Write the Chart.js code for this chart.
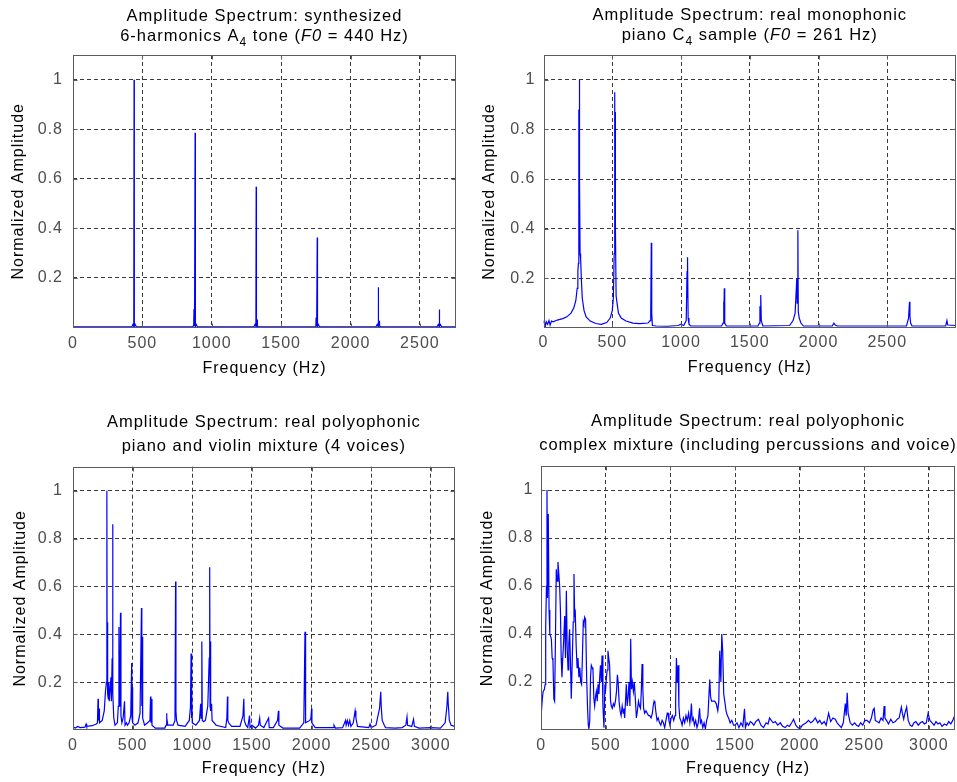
<!DOCTYPE html>
<html>
<head>
<meta charset="utf-8">
<script src="https://cdn.jsdelivr.net/npm/chart.js@4.4.1/dist/chart.umd.min.js"></script>
<style>
  html, body { margin: 0; padding: 0; background: #fff; }
  #fig { position: relative; width: 957px; height: 782px; overflow: hidden; }
  .pane { position: absolute; }
  canvas { display: block; }
</style>
</head>
<body>
<div id="fig">
  <div class="pane" style="left:0;top:0"><canvas id="c1" width="478" height="390"></canvas></div>
  <div class="pane" style="left:478px;top:0"><canvas id="c2" width="479" height="390"></canvas></div>
  <div class="pane" style="left:0;top:390px"><canvas id="c3" width="478" height="392"></canvas></div>
  <div class="pane" style="left:478px;top:390px"><canvas id="c4" width="479" height="392"></canvas></div>
</div>
<script>
// ---- data ----
const yTicks = [0.2, 0.4, 0.6, 0.8, 1];
const xTicksA = [0, 500, 1000, 1500, 2000, 2500];
const xTicksB = [0, 500, 1000, 1500, 2000, 2500, 3000];

// synthesized A4, 6 harmonics
const freq1 = [0,
  424, 432, 438, 440, 442, 448, 456,
  864, 870, 872, 874, 878, 880, 882, 888, 896,
  1304, 1312, 1318, 1320, 1322, 1326, 1328, 1330, 1336,
  1744, 1750, 1752, 1754, 1758, 1760, 1762, 1768, 1776,
  2184, 2192, 2198, 2200, 2202, 2206, 2208, 2210, 2216,
  2624, 2632, 2638, 2640, 2642, 2648, 2656,
  2760];
const amp1 = [0.003,
  0.003, 0.012, 0.004, 1.0, 0.004, 0.012, 0.003,
  0.003, 0.01, 0.075, 0.012, 0.005, 0.786, 0.004, 0.012, 0.003,
  0.003, 0.012, 0.004, 0.568, 0.005, 0.012, 0.032, 0.008, 0.003,
  0.003, 0.012, 0.04, 0.012, 0.005, 0.363, 0.004, 0.012, 0.003,
  0.003, 0.012, 0.004, 0.162, 0.005, 0.012, 0.027, 0.008, 0.003,
  0.003, 0.012, 0.004, 0.073, 0.004, 0.012, 0.003,
  0.003];

// piano C4
const freq2 = [0, 6, 12, 20, 30, 40, 48, 58, 70, 100,
  140, 170, 200, 220, 235, 245, 250, 254, 256, 258,
  260, 261, 263, 266, 270, 275, 282, 295, 310, 340,
  380, 420, 460, 485, 500, 508, 514, 518, 520, 522,
  524, 528, 535, 545, 565, 600, 650, 700, 760, 775,
  780, 784, 786, 788, 792, 820, 900, 980, 1000, 1020,
  1038, 1044, 1046, 1049, 1052, 1058, 1070, 1295, 1306, 1310,
  1312, 1315, 1318, 1330, 1560, 1570, 1574, 1576, 1580, 1584,
  1595, 1790, 1815, 1830, 1842, 1845, 1850, 1853, 1860, 1872,
  1890, 2100, 2112, 2122, 2135, 2640, 2655, 2662, 2665, 2670,
  2680, 2925, 2934, 2940, 3000];
const amp2 = [0.02, 0.03, 0.004, 0.025, 0.015, 0.03, 0.012, 0.028, 0.025, 0.032,
  0.038, 0.045, 0.06, 0.08, 0.11, 0.16, 0.23, 0.26, 0.5, 0.88,
  0.6, 1.0, 0.6, 0.3, 0.28, 0.2, 0.12, 0.07, 0.045, 0.028,
  0.018, 0.015, 0.022, 0.04, 0.07, 0.12, 0.3, 0.95, 0.5, 0.87,
  0.4, 0.13, 0.1, 0.06, 0.04, 0.028, 0.02, 0.018, 0.02, 0.03,
  0.06, 0.343, 0.04, 0.06, 0.01, 0.008, 0.007, 0.01, 0.015, 0.01,
  0.03, 0.23, 0.12, 0.285, 0.04, 0.015, 0.008, 0.008, 0.02, 0.106,
  0.04, 0.16, 0.02, 0.008, 0.008, 0.02, 0.088, 0.03, 0.133, 0.03,
  0.008, 0.01, 0.03, 0.06, 0.2, 0.1, 0.394, 0.065, 0.04, 0.02,
  0.008, 0.008, 0.02, 0.012, 0.008, 0.008, 0.04, 0.106, 0.048, 0.02,
  0.008, 0.008, 0.03, 0.012, 0.01];

// piano + violin, 4 voices
const freq3 = [0, 20, 40, 60, 100, 110, 115, 160, 195, 205,
  210, 213, 218, 222, 245, 262, 272, 280, 284, 286,
  289, 292, 296, 300, 304, 318, 322, 328, 332, 335,
  342, 352, 372, 380, 385, 388, 394, 398, 402, 410,
  420, 432, 436, 448, 456, 470, 484, 492, 495, 498,
  502, 520, 545, 562, 574, 577, 580, 584, 600, 625,
  645, 650, 653, 658, 662, 690, 770, 780, 784, 788,
  795, 840, 855, 860, 863, 868, 880, 940, 975, 985,
  990, 993, 996, 1000, 1030, 1060, 1070, 1074, 1080, 1084,
  1095, 1110, 1130, 1142, 1146, 1149, 1152, 1156, 1162, 1166,
  1200, 1280, 1290, 1295, 1298, 1305, 1330, 1400, 1425, 1432,
  1436, 1450, 1465, 1480, 1484, 1500, 1530, 1555, 1565, 1570,
  1600, 1640, 1645, 1680, 1715, 1722, 1726, 1760, 1900, 1935,
  1945, 1948, 1952, 1985, 1995, 2000, 2003, 2030, 2180, 2188,
  2200, 2260, 2285, 2290, 2300, 2310, 2320, 2330, 2350, 2365,
  2372, 2385, 2480, 2490, 2500, 2540, 2570, 2580, 2584, 2592,
  2610, 2620, 2700, 2760, 2790, 2800, 2805, 2840, 2855, 2862,
  2900, 3000, 3080, 3120, 3135, 3142, 3146, 3155, 3170, 3200];
const amp3 = [0.012, 0.008, 0.015, 0.01, 0.012, 0.025, 0.015, 0.018, 0.025, 0.03,
  0.13, 0.04, 0.09, 0.03, 0.04, 0.08, 0.16, 0.2, 1.0, 0.3,
  0.45, 0.15, 0.13, 0.2, 0.12, 0.22, 0.12, 0.3, 0.86, 0.15,
  0.05, 0.02, 0.03, 0.1, 0.43, 0.1, 0.15, 0.49, 0.06, 0.03,
  0.05, 0.12, 0.02, 0.03, 0.02, 0.03, 0.06, 0.28, 0.05, 0.18,
  0.03, 0.02, 0.03, 0.07, 0.51, 0.1, 0.39, 0.05, 0.02, 0.03,
  0.04, 0.14, 0.03, 0.13, 0.02, 0.008, 0.008, 0.02, 0.07, 0.05,
  0.02, 0.02, 0.04, 0.62, 0.08, 0.04, 0.02, 0.015, 0.04, 0.1,
  0.32, 0.05, 0.17, 0.03, 0.02, 0.04, 0.11, 0.05, 0.37, 0.04,
  0.035, 0.04, 0.1, 0.3, 0.68, 0.1, 0.37, 0.08, 0.11, 0.04,
  0.02, 0.01, 0.05, 0.14, 0.04, 0.03, 0.015, 0.015, 0.06, 0.13,
  0.04, 0.02, 0.01, 0.06, 0.01, 0.02, 0.008, 0.02, 0.05, 0.02,
  0.01, 0.05, 0.01, 0.01, 0.04, 0.08, 0.02, 0.008, 0.008, 0.03,
  0.41, 0.08, 0.03, 0.04, 0.05, 0.09, 0.03, 0.01, 0.01, 0.02,
  0.008, 0.01, 0.04, 0.02, 0.04, 0.02, 0.04, 0.015, 0.03, 0.08,
  0.05, 0.015, 0.01, 0.025, 0.01, 0.02, 0.09, 0.16, 0.1, 0.04,
  0.02, 0.01, 0.008, 0.01, 0.02, 0.055, 0.02, 0.015, 0.045, 0.015,
  0.008, 0.01, 0.008, 0.03, 0.1, 0.16, 0.11, 0.04, 0.02, 0.015];

// complex mixture
const freq4 = [0, 8, 14, 24, 30, 34, 40, 44, 48, 54,
  60, 66, 72, 78, 84, 90, 97, 103, 110, 116,
  122, 129, 136, 142, 148, 154, 160, 166, 172, 181,
  187, 194, 200, 207, 213, 219, 226, 232, 240, 247,
  253, 258, 263, 270, 277, 284, 291, 298, 305, 312,
  318, 325, 330, 336, 343, 351, 358, 364, 369, 375,
  381, 387, 394, 400, 407, 413, 420, 426, 433, 439,
  446, 452, 458, 464, 470, 477, 485, 492, 498, 504,
  510, 516, 522, 529, 536, 542, 550, 558, 566, 574,
  582, 589, 595, 602, 610, 618, 626, 634, 640, 645,
  652, 658, 665, 672, 679, 686, 692, 698, 705, 713,
  720, 728, 736, 744, 752, 760, 768, 774, 780, 786,
  792, 800, 810, 820, 830, 840, 850, 860, 866, 873,
  880, 888, 896, 905, 915, 925, 935, 945, 955, 965,
  975, 981, 988, 996, 1005, 1015, 1025, 1035, 1040, 1046,
  1052, 1059, 1065, 1072, 1080, 1090, 1100, 1110, 1120, 1130,
  1140, 1150, 1156, 1162, 1168, 1176, 1185, 1195, 1205, 1215,
  1225, 1232, 1240, 1250, 1260, 1270, 1280, 1290, 1298, 1304,
  1310, 1318, 1330, 1342, 1354, 1366, 1374, 1381, 1390, 1397,
  1404, 1412, 1420, 1430, 1440, 1450, 1462, 1475, 1488, 1500,
  1515, 1530, 1545, 1560, 1573, 1580, 1592, 1605, 1618, 1630,
  1645, 1660, 1681, 1700, 1720, 1740, 1755, 1767, 1780, 1795,
  1811, 1830, 1850, 1868, 1888, 1905, 1920, 1938, 1953, 1970,
  1985, 2004, 2020, 2035, 2050, 2069, 2085, 2100, 2121, 2140,
  2155, 2172, 2190, 2205, 2224, 2240, 2258, 2275, 2290, 2305,
  2322, 2338, 2353, 2360, 2368, 2375, 2391, 2408, 2425, 2440,
  2456, 2472, 2488, 2505, 2520, 2540, 2555, 2569, 2577, 2585,
  2598, 2615, 2630, 2645, 2654, 2660, 2672, 2688, 2705, 2722,
  2740, 2755, 2770, 2787, 2795, 2805, 2815, 2828, 2840, 2855,
  2869, 2885, 2900, 2918, 2934, 2950, 2965, 2980, 2994, 3008,
  3025, 3040, 3055, 3070, 3085, 3102, 3120, 3138, 3154, 3170, 3185, 3200];
const amp4 = [0.07, 0.13, 0.16, 0.17, 0.19, 0.43, 0.6, 1.0, 0.55, 0.9,
  0.5, 0.4, 0.39, 0.38, 0.3, 0.29, 0.13, 0.12, 0.4, 0.67,
  0.62, 0.7, 0.65, 0.6, 0.5, 0.3, 0.22, 0.3, 0.36, 0.475,
  0.3, 0.58, 0.35, 0.25, 0.36, 0.42, 0.28, 0.13, 0.3, 0.45,
  0.65, 0.48, 0.49, 0.35, 0.26, 0.3, 0.22, 0.26, 0.2, 0.19,
  0.3, 0.45, 0.44, 0.47, 0.46, 0.22, 0.09, 0.02, 0.005, 0.04,
  0.22, 0.27, 0.26, 0.25, 0.13, 0.1, 0.14, 0.16, 0.12, 0.19,
  0.15, 0.22, 0.27, 0.2, 0.31, 0.1, 0.01, 0.18, 0.17, 0.22,
  0.25, 0.33, 0.3, 0.27, 0.12, 0.1, 0.09, 0.11, 0.1, 0.12,
  0.16, 0.23, 0.2, 0.12, 0.08, 0.06, 0.1, 0.07, 0.09, 0.05,
  0.12, 0.19, 0.1, 0.14, 0.2, 0.1, 0.38, 0.17, 0.2, 0.16,
  0.2, 0.13, 0.05, 0.08, 0.12, 0.1, 0.09, 0.16, 0.275, 0.17,
  0.09, 0.07, 0.08, 0.07, 0.06, 0.06, 0.05, 0.07, 0.1, 0.12,
  0.11, 0.07, 0.04, 0.05, 0.03, 0.02, 0.04, 0.03, 0.01, 0.04,
  0.07, 0.07, 0.04, 0.02, 0.05, 0.06, 0.04, 0.06, 0.12, 0.3,
  0.2, 0.27, 0.1, 0.05, 0.04, 0.02, 0.05, 0.03, 0.06, 0.04,
  0.07, 0.03, 0.06, 0.11, 0.04, 0.05, 0.02, 0.04, 0.01, 0.03,
  0.09, 0.03, 0.04, 0.01, 0.03, 0.005, 0.04, 0.06, 0.15, 0.21,
  0.14, 0.12, 0.12, 0.12, 0.11, 0.08, 0.12, 0.33, 0.2, 0.4,
  0.33, 0.15, 0.12, 0.08, 0.06, 0.05, 0.03, 0.04, 0.02, 0.02,
  0.03, 0.01, 0.03, 0.015, 0.088, 0.01, 0.03, 0.02, 0.035, 0.03,
  0.02, 0.035, 0.045, 0.02, 0.01, 0.03, 0.025, 0.05, 0.04, 0.03,
  0.035, 0.02, 0.03, 0.015, 0.01, 0.02, 0.015, 0.03, 0.045, 0.02,
  0.01, 0.005, 0.02, 0.025, 0.03, 0.04, 0.03, 0.035, 0.05, 0.03,
  0.04, 0.025, 0.035, 0.02, 0.07, 0.035, 0.05, 0.045, 0.03, 0.02,
  0.01, 0.03, 0.11, 0.06, 0.155, 0.07, 0.03, 0.02, 0.03, 0.02,
  0.015, 0.03, 0.02, 0.04, 0.04, 0.03, 0.05, 0.084, 0.09, 0.04,
  0.035, 0.03, 0.05, 0.04, 0.1, 0.05, 0.04, 0.025, 0.045, 0.03,
  0.035, 0.045, 0.05, 0.095, 0.07, 0.045, 0.07, 0.095, 0.04, 0.02,
  0.015, 0.03, 0.035, 0.02, 0.03, 0.035, 0.025, 0.03, 0.07, 0.04,
  0.03, 0.02, 0.035, 0.025, 0.03, 0.015, 0.025, 0.02, 0.035, 0.025, 0.04, 0.06];

// ---- styling ----
const FONT = '"Liberation Sans", Arial, sans-serif';
const TICK_COLOR = '#4d4d4d';
const GRID_COLOR = '#3a3a3a';
const BOX_COLOR = '#5c5c5c';

// MATLAB-like box with inward tick marks
const framePlugin = {
  id: 'frame',
  beforeDraw(chart) {
    chart.ctx.letterSpacing = '1px';
  },
  afterDatasetsDraw(chart) {
    const { ctx, chartArea: a, scales: { x, y } } = chart;
    const L = Math.round(a.left) + 0.5, R = Math.round(a.right) - 0.5;
    const T = Math.round(a.top) + 0.5, B = Math.round(a.bottom) - 0.5;
    ctx.save();
    ctx.strokeStyle = BOX_COLOR;
    ctx.lineWidth = 1;
    ctx.beginPath();
    x.ticks.forEach(t => {
      const px = Math.round(x.getPixelForValue(t.value)) + 0.5;
      ctx.moveTo(px, T); ctx.lineTo(px, T + 4);
      ctx.moveTo(px, B); ctx.lineTo(px, B - 4);
    });
    y.ticks.forEach(t => {
      const py = Math.round(y.getPixelForValue(t.value)) + 0.5;
      ctx.moveTo(L, py); ctx.lineTo(L + 4, py);
      ctx.moveTo(R, py); ctx.lineTo(R - 4, py);
    });
    ctx.stroke();
    ctx.strokeRect(L, T, R - L, B - T);
    ctx.restore();
  }
};

// two-line title with subscript / italic pieces
const richTitle = {
  id: 'richTitle',
  afterDraw(chart, args, opts) {
    const { ctx, chartArea: a } = chart;
    const cx = (a.left + a.right) / 2;
    const fontOf = s => (s.it ? 'italic ' : '') + (s.sub ? 12 : 16.5) + 'px ' + FONT;
    ctx.save();
    ctx.letterSpacing = '1px';
    ctx.fillStyle = '#000';
    ctx.textAlign = 'left';
    ctx.textBaseline = 'middle';
    opts.lines.forEach((segs, i) => {
      let w = 0;
      segs.forEach(s => { ctx.font = fontOf(s); w += ctx.measureText(s.t).width; });
      let xx = cx - w / 2;
      segs.forEach(s => {
        ctx.font = fontOf(s);
        ctx.fillText(s.t, xx, opts.ys[i] + (s.sub ? 7 : 0));
        xx += ctx.measureText(s.t).width;
      });
    });
    ctx.restore();
  }
};

function makePanel(id, freq, amp, g) {
  const pts = freq.map((f, i) => ({ x: f, y: amp[i] }));
  return new Chart(document.getElementById(id), {
    type: 'line',
    data: { datasets: [{ data: pts, borderColor: '#0000ff', borderWidth: 1.2, pointRadius: 0, tension: 0, fill: false }] },
    options: {
      responsive: false,
      animation: false,
      events: [],
      layout: { padding: { top: g.top, right: g.right, left: 0, bottom: 0 } },
      plugins: {
        legend: { display: false },
        tooltip: { enabled: false },
        richTitle: { lines: g.title, ys: g.titleY }
      },
      scales: {
        x: {
          type: 'linear', min: 0, max: g.xMax,
          afterBuildTicks: s => { s.ticks = g.xTicks.map(v => ({ value: v })); },
          afterFit: s => { s.height = g.xH; },
          grid: { color: c => (c.tick && c.tick.value === 0 ? 'rgba(0,0,0,0)' : GRID_COLOR), drawTicks: false },
          border: { display: false, dash: [4, 3] },
          ticks: { color: TICK_COLOR, font: { family: FONT, size: 16 }, padding: g.xPad, maxRotation: 0, autoSkip: false, callback: v => String(v) },
          title: { display: true, text: 'Frequency (Hz)', color: '#000', font: { family: FONT, size: 16 }, padding: { top: 0, bottom: g.xTitlePad } }
        },
        y: {
          min: 0, max: 1.1,
          afterBuildTicks: s => { s.ticks = yTicks.map(v => ({ value: v })); },
          afterFit: s => { s.width = g.yW; },
          grid: { color: GRID_COLOR, drawTicks: false },
          border: { display: false, dash: [4, 3] },
          ticks: { color: TICK_COLOR, font: { family: FONT, size: 16 }, padding: g.yPad, callback: v => String(v) },
          title: { display: true, text: 'Normalized Amplitude', color: '#000', font: { family: FONT, size: 16 }, padding: { top: g.yTitlePad, bottom: 0 } }
        }
      }
    },
    plugins: [framePlugin, richTitle]
  });
}

makePanel('c1', freq1, amp1, {
  xMax: 2760, xTicks: xTicksA, top: 55, right: 22, yW: 73, xH: 62.5,
  xPad: 6, xTitlePad: 11.4, yPad: 10, yTitlePad: 9.4, titleY: [16, 36],
  title: [[{ t: 'Amplitude Spectrum: synthesized' }],
          [{ t: '6-harmonics A' }, { t: '4', sub: true }, { t: ' tone (' }, { t: 'F0', it: true }, { t: ' = 440 Hz)' }]]
});
makePanel('c2', freq2, amp2, {
  xMax: 3000, xTicks: xTicksA, top: 55, right: 1, yW: 65.5, xH: 62,
  xPad: 5, xTitlePad: 12.4, yPad: 8, yTitlePad: 2, titleY: [15, 35],
  title: [[{ t: 'Amplitude Spectrum: real monophonic' }],
          [{ t: 'piano C' }, { t: '4', sub: true }, { t: ' sample (' }, { t: 'F0', it: true }, { t: ' = 261 Hz)' }]]
});
makePanel('c3', freq3, amp3, {
  xMax: 3200, xTicks: xTicksB, top: 76.7, right: 23.3, yW: 73, xH: 52,
  xPad: 5.5, xTitlePad: 3.4, yPad: 10, yTitlePad: 11, titleY: [32.7, 56],
  title: [[{ t: 'Amplitude Spectrum: real polyophonic' }],
          [{ t: 'piano and violin mixture (4 voices)' }]]
});
makePanel('c4', freq4, amp4, {
  xMax: 3200, xTicks: xTicksB, top: 76, right: 2.3, yW: 63.3, xH: 52,
  xPad: 5.5, xTitlePad: 3.4, yPad: 8, yTitlePad: 0, titleY: [31.7, 55],
  title: [[{ t: 'Amplitude Spectrum: real polyophonic' }],
          [{ t: 'complex mixture (including percussions and voice)' }]]
});
</script>
</body>
</html>
